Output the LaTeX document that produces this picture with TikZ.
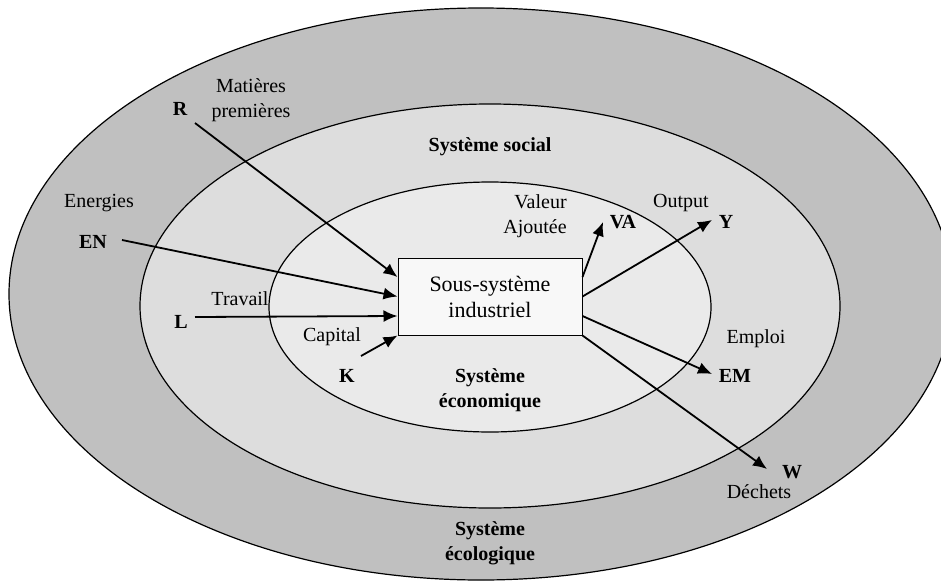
\documentclass[tikz,border=0pt]{standalone}
\usepackage{fontspec}
\setmainfont{Liberation Serif}
\usetikzlibrary{arrows.meta, calc}
\definecolor{ecolo}{HTML}{C0C0C0}
\definecolor{social}{HTML}{DDDDDD}
\definecolor{econ}{HTML}{EAEAEA}
\definecolor{indus}{HTML}{F8F8F8}
\begin{document}
\begin{tikzpicture}[x=0.5pt, y=-0.5pt, line width=0.6pt,
    font=\fontsize{10}{12.5}\selectfont,
    flow/.style={-{Latex[length=7pt, width=6pt]}, line width=0.9pt},
    var/.style={font=\fontsize{10}{12.5}\selectfont\bfseries}]
  \clip (0,0) rectangle (941,583);
  \fill[white] (0,0) rectangle (941,583);

  \draw[fill=ecolo] (481,294) ellipse [x radius=236pt, y radius=143pt];
  \draw[fill=social] (490,306) ellipse [x radius=175pt, y radius=101pt];
  \draw[fill=econ] (490,307) ellipse [x radius=110.5pt, y radius=62.5pt];

  \node[draw, fill=indus, line width=0.5pt, minimum width=92pt, minimum height=38.5pt,
        align=center, font=\fontsize{11}{13}\selectfont] (box) at (490,296.5)
        {Sous-système\\industriel};

  \node[align=center] (mp) at (251,100) {Matières\\premières};
  \node[var] (R) at (180,109) {R};
  \node (en) at (99,203) {Energies};
  \node[var] (EN) at (93,242) {EN};
  \node (trav) at (240,299) {Travail};
  \node[var] (L) at (181,322) {L};
  \node (cap) at (332,337) {Capital};
  \node[var] (K) at (347,376) {K};
  \node[var] (soc) at (490,147) {Système social};
  \node[align=right] (vaj) at (535,216) {Valeur\\Ajoutée};
  \node[var] (VA) at (623,222) {VA};
  \node (out) at (681,203) {Output};
  \node[var] (Y) at (726,222) {Y};
  \node (emp) at (756,339) {Emploi};
  \node[var] (EM) at (735,376) {EM};
  \node[var] (W) at (792,472) {W};
  \node (dech) at (759,492) {Déchets};
  \node[var, align=center] (eco) at (490,390) {Système\\économique};
  \node[var, align=center] (eclg) at (490,543) {Système\\écologique};

  \coordinate (r0) at (195,123);
  \coordinate (en0) at (122,240);
  \coordinate (l0) at (195,317);
  \coordinate (k0) at (361,356);
  \coordinate (va1) at (603,222);
  \coordinate (y1) at (712,220);
  \coordinate (em1) at (712,374);
  \coordinate (w1) at (767,469);

  \draw[flow] (r0) -- ($(box.north west)!0.25!(box.south west)$);
  \draw[flow] (en0) -- (box.west);
  \draw[flow] (l0) -- ($(box.north west)!0.75!(box.south west)$);
  \draw[flow] (k0) -- (box.south west);
  \draw[flow] ($(box.north east)!0.25!(box.south east)$) -- (va1);
  \draw[flow] (box.east) -- (y1);
  \draw[flow] ($(box.north east)!0.75!(box.south east)$) -- (em1);
  \draw[flow] (box.south east) -- (w1);
\end{tikzpicture}
\end{document}
